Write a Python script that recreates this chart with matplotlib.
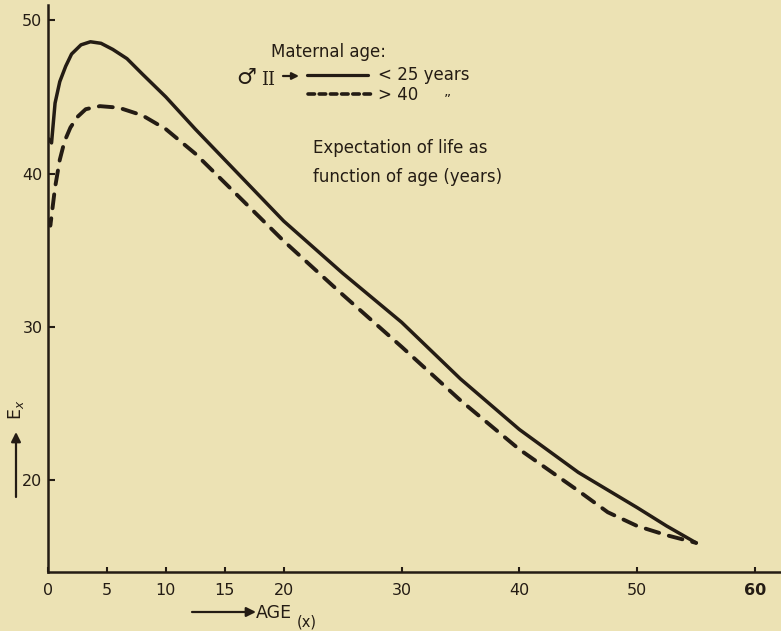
import matplotlib
matplotlib.use("Agg")
import matplotlib.pyplot as plt
from matplotlib.lines import Line2D

# expectation of life E_x against age, sons of young and of old mothers
age_young = [0, 0.3, 0.6, 1.0, 1.5, 2.0, 2.8, 3.6, 4.5, 5.5, 6.7, 8.0, 10,
             12.5, 15, 17.5, 20, 25, 30, 35, 40, 45, 50, 52.5, 55]
ex_young = [42.3, 42.0, 44.6, 46.0, 47.0, 47.8, 48.4, 48.6, 48.5, 48.1, 47.5,
            46.5, 45.0, 42.9, 40.9, 38.9, 36.9, 33.5, 30.3, 26.6, 23.3, 20.5,
            18.2, 17.0, 15.9]

age_old = [0, 0.2, 0.6, 1.0, 1.4, 1.9, 2.5, 3.2, 4.4, 6.0, 8.0, 10, 12.5,
           15, 17.5, 20, 25, 30, 35, 40, 45, 47.5, 50, 52.5, 55]
ex_old = [37.0, 36.6, 39.1, 40.9, 42.1, 43.0, 43.7, 44.2, 44.4, 44.3, 43.8,
          42.9, 41.3, 39.4, 37.5, 35.6, 32.1, 28.7, 25.2, 22.0, 19.3, 17.9,
          17.0, 16.4, 15.9]

x_ticks = [0, 5, 10, 15, 20, 30, 40, 50, 60]
y_ticks = [20, 30, 40, 50]

paper = "#ece2b4"
ink = "#241c14"
W, H = 781, 631


def px(x, y):
    # pixel position from the top-left corner -> figure fraction
    return x / W, 1 - y / H


fig = plt.figure(figsize=(W / 100, H / 100), dpi=100, facecolor=paper)
ax = fig.add_axes([48 / W, 59 / H, 1 - 48 / W, (572 - 5) / H])
ax.set_facecolor(paper)

ax.plot(age_young, ex_young, color=ink, lw=2.5, solid_capstyle="round",
        solid_joinstyle="round")
ax.plot(age_old, ex_old, color=ink, lw=2.8, dashes=(3.6, 2.6),
        dash_capstyle="round", dash_joinstyle="round")

ax.set_xlim(0, 62.2)
ax.set_ylim(14.0, 51.0)
for s in ["top", "right"]:
    ax.spines[s].set_visible(False)
for s in ["left", "bottom"]:
    ax.spines[s].set_color(ink)
    ax.spines[s].set_linewidth(1.8)

ax.set_xticks(x_ticks)
ax.set_xticklabels([str(t) for t in x_ticks])
ax.xaxis.get_ticklabels()[-1].set_fontweight("bold")
ax.set_yticks(y_ticks)
ax.tick_params(axis="x", direction="in", length=3.5, width=1.5, color=ink,
               labelsize=11.5, labelcolor=ink, pad=8)
ax.tick_params(axis="y", direction="in", length=5, width=1.5, color=ink,
               labelsize=11.5, labelcolor=ink, pad=4)

# axis titles with their arrows
fig.text(*px(256, 613), "AGE", fontsize=12.5, color=ink, va="center", ha="left")
fig.text(*px(297, 622), "(x)", fontsize=10.5, color=ink, va="center", ha="left")
ax.annotate("", xy=px(256, 612), xytext=px(192, 612), xycoords="figure fraction",
            arrowprops=dict(arrowstyle="-|>", color=ink, lw=1.6,
                            mutation_scale=14, shrinkA=0, shrinkB=0))
fig.text(*px(16, 410), "E$_x$", fontsize=12.5, color=ink, rotation=90,
         va="center", ha="center")
ax.annotate("", xy=px(16, 432), xytext=px(16, 497), xycoords="figure fraction",
            arrowprops=dict(arrowstyle="-|>", color=ink, lw=1.6,
                            mutation_scale=14, shrinkA=0, shrinkB=0))

# key
fig.text(*px(271, 52), "Maternal age:", fontsize=12, color=ink, va="center")
fig.text(*px(236, 78), "\u2642", fontsize=16, color=ink, va="center")
fig.text(*px(261, 80), "II", fontsize=13, color=ink, va="center",
         family="DejaVu Serif")
ax.annotate("", xy=px(299, 76), xytext=px(283, 76), xycoords="figure fraction",
            arrowprops=dict(arrowstyle="-|>", color=ink, lw=1.6,
                            mutation_scale=10, shrinkA=0, shrinkB=0))
fig.add_artist(Line2D([307 / W, 368 / W], [1 - 75 / H, 1 - 75 / H],
                      color=ink, lw=2.3, solid_capstyle="round"))
fig.add_artist(Line2D([308 / W, 372 / W], [1 - 94 / H, 1 - 94 / H],
                      color=ink, lw=2.6, dashes=(1.8, 1.3),
                      dash_capstyle="round"))
fig.text(*px(378, 75), "< 25 years", fontsize=12, color=ink, va="center")
fig.text(*px(378, 95), "> 40", fontsize=12, color=ink, va="center")
fig.text(*px(444, 100), "\u201d", fontsize=10, color=ink, va="center")

fig.text(*px(313, 148), "Expectation of life as", fontsize=12, color=ink,
         va="center")
fig.text(*px(313, 177), "function of age (years)", fontsize=12, color=ink,
         va="center")

fig.savefig("out.png", dpi=100, facecolor=paper)
